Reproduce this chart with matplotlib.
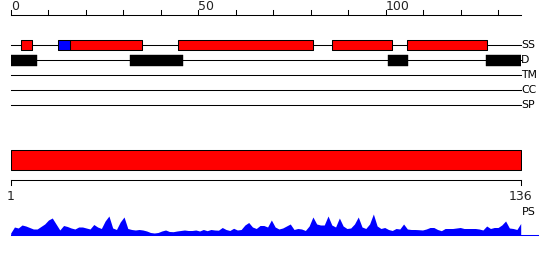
import matplotlib
matplotlib.use("Agg")
import matplotlib.pyplot as plt
import numpy as np

# ---- data ----
length = 136
ruler_ticks = list(range(0, 131, 10))
ruler_labels = {0: "0", 50: "50", 100: "100"}
track_names = ["SS", "D", "TM", "CC", "SP"]
helix_segments = [(2.8, 5.8), (15.9, 34.9), (44.7, 80.7), (85.8, 101.8), (105.8, 126.9)]
strand_segments = [(12.7, 15.9)]
disorder_segments = [(0.0, 7.0), (31.8, 45.9), (100.7, 105.9), (126.7, 136.0)]
domain_segments = [(0.0, 136.0)]
bottom_labels = ["1", "136"]
ps_values = [
    2, 8, 7, 10, 9, 7.5, 6, 6, 8.5, 11,
    15, 17, 11, 5, 9.5, 8.5, 7, 6, 8, 8,
    7, 6, 10.5, 8, 6.5, 14, 19, 7, 5.5, 13,
    18, 6.5, 5.5, 5, 5.5, 5, 4, 2.5, 2, 2.5,
    4, 5, 3.5, 3.3, 4, 4.5, 5, 4.5, 4.5, 5,
    4, 5.5, 4.3, 5.5, 5, 4.8, 7.5, 5.5, 4.5, 6.7,
    5, 5.5, 10, 12.5, 8, 6.5, 9.5, 9.5, 8, 15,
    8, 6, 7, 9, 11, 5.5, 6.5, 6, 4.5, 9,
    18, 11, 10, 10, 19, 10, 8, 17, 9, 6.5,
    7, 11, 18, 8, 6.5, 11, 21, 9, 6.5, 7.5,
    5.5, 4.5, 6.5, 6, 11, 6, 5.5, 5.5, 5.3, 5,
    6, 7.5, 7.5, 5.5, 4.3, 6.5, 6.5, 6.5, 7, 7.5,
    6.5, 6.5, 6.5, 6.5, 6, 5, 9, 6.5, 7.5, 7.5,
    10, 14, 7, 6.5, 5.5, 11.5,
]

# ---- layout (pixel-like y coordinates) ----
W, H = 550, 260
x0_px, x1_px = 10.7, 520.7
fig = plt.figure(figsize=(W / 100, H / 100), dpi=100)
ax = fig.add_axes([x0_px / W, 0, (x1_px - x0_px) / W, 1])
ax.set_xlim(0, length)
ax.set_ylim(H, 0)
ax.axis("off")

lw = 0.75
font = "DejaVu Sans"

# top ruler
ruler_y = 14.7
ax.plot([0, length], [ruler_y, ruler_y], color="black", lw=lw, clip_on=False)
for t in ruler_ticks:
    ax.plot([t, t], [ruler_y, 10.0], color="black", lw=lw, clip_on=False)
    if t in ruler_labels:
        ax.text(t, 10.0, ruler_labels[t], ha="left", va="baseline", fontsize=9,
                family=font, color="#222222", clip_on=False)

# tracks
track_y = [45.3, 60.3, 75.3, 90.3, 105.3]
for name, y in zip(track_names, track_y):
    ax.plot([0, length], [y, y], color="black", lw=lw, clip_on=False)
    ax.text(length + 0.05, y, name, ha="left", va="center", fontsize=7.8,
            family=font, color="black", clip_on=False)

ss_y = track_y[0]
ax.broken_barh([(s, e - s) for s, e in helix_segments], (ss_y - 5, 10),
               facecolors="#ff0000", edgecolors="black", linewidth=lw, zorder=3)
ax.broken_barh([(s, e - s) for s, e in strand_segments], (ss_y - 5, 10),
               facecolors="#0000ff", edgecolors="black", linewidth=lw, zorder=3)
d_y = track_y[1]
ax.broken_barh([(s, e - s) for s, e in disorder_segments], (d_y - 5.3, 10.6),
               facecolors="black", edgecolors="black", linewidth=0.3, zorder=3)

# domain bar
ax.broken_barh([(s, e - s) for s, e in domain_segments], (150.3, 20),
               facecolors="#ff0000", edgecolors="black", linewidth=lw, zorder=3)

# bottom ruler
by = 180.3
ax.plot([0, length], [by, by], color="black", lw=lw, clip_on=False)
for xpos in (0, length):
    ax.plot([xpos, xpos], [by, by + 5], color="black", lw=lw, clip_on=False)
ax.text(0, 199.5, bottom_labels[0], ha="center", va="baseline", fontsize=9,
        family=font, color="#222222", clip_on=False)
ax.text(length, 199.5, bottom_labels[1], ha="center", va="baseline", fontsize=9,
        family=font, color="#222222", clip_on=False)
ax.text(length + 0.3, 215, "PS", ha="left", va="baseline", fontsize=8,
        family=font, color="black", clip_on=False)

# PS area
base = 235.0
ps = np.array(ps_values)
xs = np.linspace(0, length, len(ps))
ax.fill_between(xs, base - ps, base, color="#0000ff", lw=0, clip_on=False)
ax.plot([0, 140.5], [base, base], color="#0000ff", lw=lw, clip_on=False)

fig.savefig("out.png", dpi=100)
